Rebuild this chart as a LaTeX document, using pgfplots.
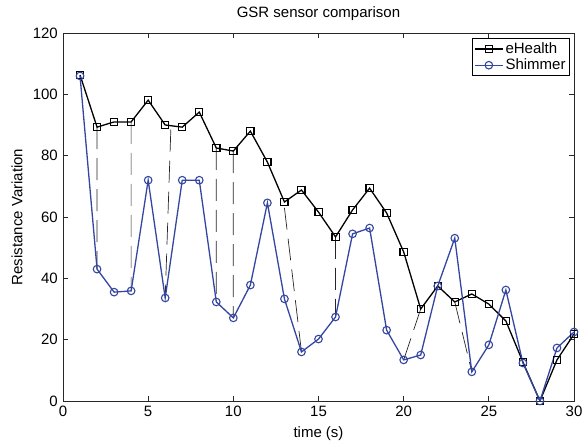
\documentclass[border=0pt]{standalone}
\usepackage{fontspec}
\setmainfont{Liberation Sans}
\usepackage{pgfplots}
\pgfplotsset{compat=1.18}
\definecolor{shim}{RGB}{52,70,160}
\definecolor{axgray}{RGB}{40,40,40}
\begin{document}
\fontsize{15bp}{18bp}\selectfont
\begin{tikzpicture}[x=1bp,y=1bp]
\path[use as bounding box] (-63,-43) rectangle (519,401);
\begin{axis}[
  at={(0,0)}, anchor=south west,
  scale only axis, width=511bp, height=368bp,
  xmin=0, xmax=30, ymin=0, ymax=120,
  xtick={0,5,...,30}, ytick={0,20,...,120},
  tick align=inside, major tick length=5bp,
  axis line style={axgray, line width=0.9bp},
  every tick/.style={axgray, line width=0.8bp},
  /pgf/number format/assume math mode=true,
  tick label style={font=\fontsize{15bp}{18bp}\selectfont},
  label style={font=\fontsize{15bp}{18bp}\selectfont},
  title style={font=\fontsize{15bp}{18bp}\selectfont, yshift=1bp},
  title={GSR sensor comparison},
  xlabel={time (s)}, ylabel={Resistance Variation},
  legend style={at={(rel axis cs:0.992,0.986)}, anchor=north east, draw=black, line width=0.8bp, font=\fontsize{15bp}{18bp}\selectfont, inner sep=2bp, row sep=-1bp},
  legend cell align=left,
  legend image code/.code={\draw[mark repeat=2,mark phase=2] plot coordinates {(0bp,0bp)(14bp,0bp)(28bp,0bp)};},
  unbounded coords=jump,
]
\addplot[black!85, line width=0.7bp, dash pattern=on 22bp off 9bp, forget plot] coordinates {
(2,89.3) (2,43) (2,nan)
(4,91) (4,35.9) (4,nan)
(6.33,88.5) (6,33.6) (6,nan)
(9,82.5) (9,32.3) (9,nan)
(10,81.5) (10,27.1) (10,nan)
(13,63) (14,16) (14,nan)
(16,53.5) (16,27.4) (16,nan)
(21,30) (20,13.4) (20,nan)
(23,32.3) (24,9.5)
};
\addplot[black, line width=1.3bp, mark=square, mark size=3.6bp, mark options={line width=1.2bp}] coordinates {
(1,106.3) (2,89.3) (3,91) (4,91) (5,98.1) (6,90) (7,89.3) (8,94.2) (9,82.5) (10,81.5)
(11,88) (12,77.9) (13,64.9) (14,68.8) (15,61.6) (16,53.5) (17,62.3) (18,69.4) (19,61.3) (20,48.6)
(21,30) (22,37.5) (23,32.3) (24,34.9) (25,31.6) (26,26.1) (27,12.7) (28,0) (29,13.4) (30,21.8)
};
\addlegendentry{eHealth}
\addplot[shim, line width=1.3bp, mark=o, mark size=3.8bp, mark options={line width=1.1bp}] coordinates {
(1,106) (2,43) (3,35.5) (4,35.9) (5,72) (6,33.6) (7,72) (8,72) (9,32.3) (10,27.1)
(11,37.8) (12,64.6) (13,33.3) (14,16) (15,20.2) (16,27.4) (17,54.5) (18,56.4) (19,23.1) (20,13.4)
(21,15) (22,37.5) (23,53.1) (24,9.5) (25,18.3) (26,36.2) (27,12.4) (28,0) (29,17.3) (30,22.5)
};
\addlegendentry{Shimmer}
\end{axis}
\end{tikzpicture}
\end{document}
